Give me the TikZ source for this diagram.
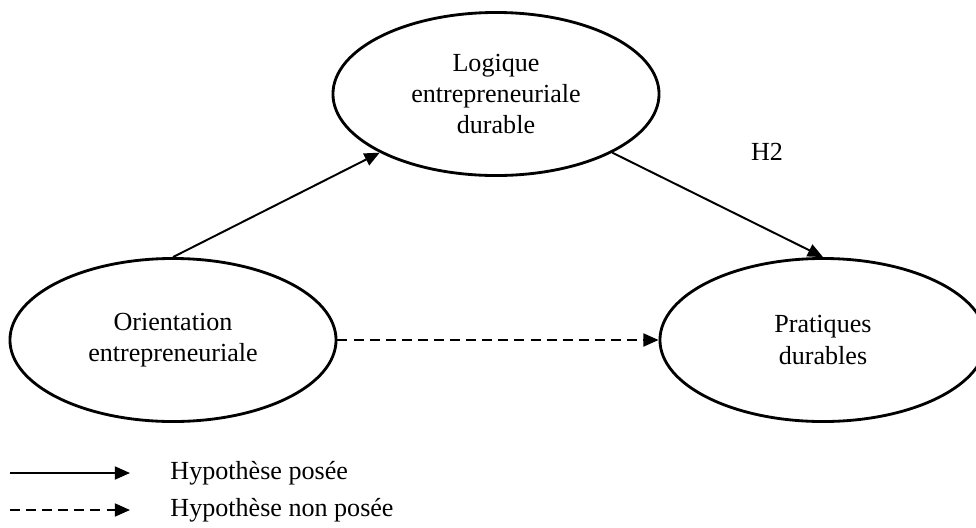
\documentclass[tikz,border=0pt]{standalone}
\usepackage{fontspec}
\setmainfont{Liberation Serif}
\usetikzlibrary{shapes,arrows.meta,positioning}
\tikzstyle{line} = [draw, line width=0.9pt, -{Triangle[length=7pt,width=6pt]}]
\tikzstyle{dashline} = [line, dash pattern=on 4.6pt off 2.8pt]
\tikzstyle{construct} = [draw, ellipse, line width=1.3pt, minimum width=150pt, minimum height=75pt, align=center, inner sep=0pt]
\tikzstyle{legend} = [anchor=west, inner sep=0pt]

\begin{document}
\begin{tikzpicture}[x=0.46pt, y=-0.46pt, font=\fontsize{12}{14.3}\selectfont]
        \useasboundingbox (0,0) rectangle (976,527);
        \node[construct] (logique) at (496,94) {Logique\\entrepreneuriale\\durable};
        \node[construct] (orient) at (173,340) {Orientation\\entrepreneuriale};
        \node[construct] (prat) at (823,340) {Pratiques\\durables};
        \node (h2) at (767,152) {H2};
        \path[line] (orient.north) -- (logique.south west);
        \path[line] (logique.south east) -- (prat.north);
        \path[dashline] (orient.east) -- (prat.west);
        % legend
        \coordinate (a1) at (10,473);
        \coordinate (b1) at (130,473);
        \coordinate (a2) at (10,510);
        \coordinate (b2) at (130,510);
        \node[legend] (posee) at (170,473) {Hypothèse posée};
        \node[legend] (nonposee) at (170,510) {Hypothèse non posée};
        \path[line] (a1) -- (b1);
        \path[dashline] (a2) -- (b2);
    \end{tikzpicture}
\end{document}
